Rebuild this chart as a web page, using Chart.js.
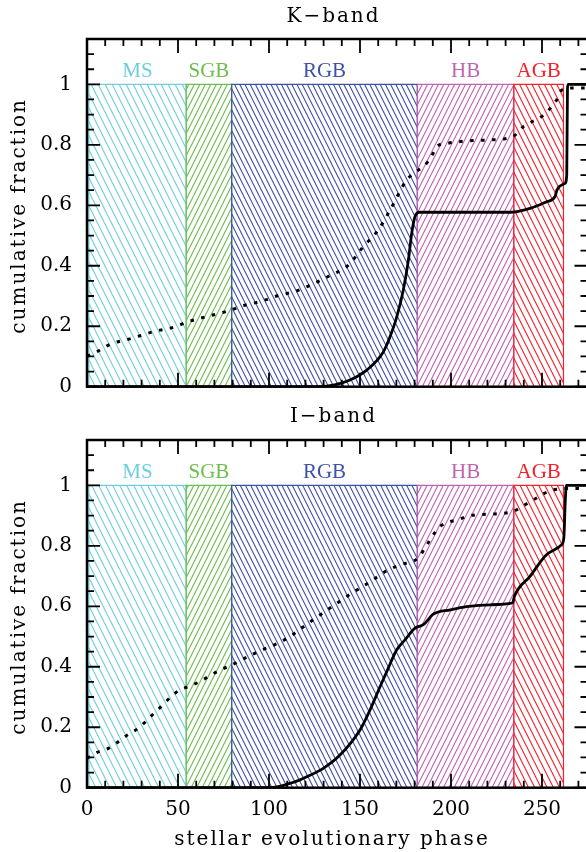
<!DOCTYPE html>
<html><head><meta charset="utf-8">
<script src="https://cdn.jsdelivr.net/npm/chart.js@4.4.0/dist/chart.umd.min.js"></script>
<style>
html,body{margin:0;padding:0;background:#fff;overflow:hidden}
#wrap{position:relative;width:586px;height:852px;overflow:hidden;background:#fff}
canvas{position:absolute;left:0}
</style></head><body>
<div id="wrap">
<canvas id="cI" width="600" height="452" style="top:400px"></canvas>
<canvas id="cK" width="600" height="420" style="top:0px"></canvas>
</div>
<script>
// ---------- data ----------
const phaseNames  = ['MS', 'SGB', 'RGB', 'HB', 'AGB'];
const phaseStart  = [1, 54.5, 79.5, 181.5, 234.5];
const phaseEnd    = [54.5, 79.5, 181.5, 234.5, 261.8];
const phaseTop    = [1, 1, 1, 1, 1];

const xTicks = [0, 50, 100, 150, 200, 250];
const xTickLabels = ['0', '50', '100', '150', '200', '250'];
const yTicks = [0, 0.2, 0.4, 0.6, 0.8, 1];
const yTickLabels = ['0', '0.2', '0.4', '0.6', '0.8', '1'];

// K-band
const kDotX = [0, 5.5, 12.6, 24.6, 36.4, 48.4, 54.5, 62, 73, 79.5, 85, 91.4, 98, 104.2, 115.2, 121.6, 133, 143.6, 151.5, 160, 166.5, 175.6, 180.8, 185.7, 189.4, 192.1, 198, 204, 212, 221.4, 233.9, 239.7, 250.7, 258, 260.8, 265.4, 275];
const kDotY = [0.100, 0.116, 0.140, 0.160, 0.182, 0.198, 0.213, 0.226, 0.243, 0.254, 0.267, 0.276, 0.287, 0.300, 0.317, 0.333, 0.366, 0.402, 0.461, 0.518, 0.584, 0.683, 0.711, 0.733, 0.763, 0.794, 0.805, 0.810, 0.814, 0.816, 0.827, 0.860, 0.898, 0.948, 0.981, 0.988, 0.988];
const kSolidX = [0, 128, 136, 144.5, 153.7, 162.8, 166.5, 170.2, 173.8, 176.6, 178.4, 180.2, 182.5, 200, 232.4, 243.4, 252.6, 257.1, 258.2, 259.9, 262.6, 263.6, 264.0, 264.4, 275];
const kSolidY = [0, 0, 0.006, 0.022, 0.055, 0.115, 0.165, 0.231, 0.320, 0.419, 0.507, 0.562, 0.577, 0.577, 0.577, 0.590, 0.612, 0.628, 0.650, 0.664, 0.672, 0.700, 0.987, 1.0, 1.0];

// I-band
const iDotX = [0, 5.3, 11.7, 17.2, 22.4, 27.3, 32.3, 36.8, 41.4, 46.2, 51.1, 55.7, 62, 67.6, 73.5, 79.5, 85, 90.5, 96.3, 102, 107.9, 113, 118, 123.5, 133.5, 144.1, 154.6, 165.6, 172, 182, 185.7, 190.3, 194, 205, 210.4, 225, 234.2, 240.7, 247, 253.5, 259, 265, 275];
const iDotY = [0.097, 0.116, 0.130, 0.152, 0.175, 0.193, 0.219, 0.246, 0.272, 0.301, 0.324, 0.334, 0.351, 0.371, 0.390, 0.406, 0.423, 0.440, 0.456, 0.470, 0.487, 0.506, 0.528, 0.552, 0.594, 0.638, 0.677, 0.721, 0.737, 0.760, 0.793, 0.837, 0.864, 0.889, 0.900, 0.906, 0.914, 0.936, 0.958, 0.980, 0.988, 0.990, 0.990];
const iSolidX = [0, 100.5, 111.5, 117, 120.7, 129.8, 139, 150, 155.5, 161, 164.7, 170.2, 174.7, 180.2, 184.8, 190.3, 199.5, 208.6, 221.4, 233.9, 234.8, 243.4, 252.6, 260.8, 262.0, 262.8, 263.4, 275];
const iSolidY = [0, 0, 0.014, 0.026, 0.036, 0.064, 0.108, 0.191, 0.257, 0.334, 0.384, 0.456, 0.489, 0.528, 0.539, 0.574, 0.588, 0.599, 0.605, 0.611, 0.632, 0.699, 0.771, 0.804, 0.826, 0.950, 1.0, 1.0];

// ---------- style ----------
const phaseColors  = ['#6fcde0', '#6cbf4c', '#3f50a8', '#c163b3', '#f5222e'];
const phaseDir     = ['\\', '/', '\\', '/', '\\'];
const hatchTileW   = [7, 11, 26, 27, 31];
const hatchLines   = [1, 2, 5, 5, 5];
const TEXT_FONT = '20px "DejaVu Serif"';
const TEXT_SPACING = 2;

function makeHatch(color, dir, w, n) {
  const c = document.createElement('canvas');
  c.width = w; c.height = 2 * w;
  const g = c.getContext('2d');
  if (dir === '/') { g.translate(w, 0); g.scale(-1, 1); }
  g.strokeStyle = color; g.lineWidth = 1.1;
  g.beginPath();
  for (let k = 0; k < n; k++) {
    const x0 = k * w / n;
    for (let m = -2; m <= 2; m++) {
      g.moveTo(x0 + m * w - w, -2 * w);
      g.lineTo(x0 + m * w + 2 * w, 4 * w);
    }
  }
  g.stroke();
  return document.createElement('canvas').getContext('2d').createPattern(c, 'repeat');
}

function pts(xs, ys) { return xs.map((x, i) => ({x: x, y: ys[i]})); }

function spacedText(ctx, text, cx, y, sp) {
  ctx.textAlign = 'left';
  if ('letterSpacing' in ctx) {
    ctx.letterSpacing = sp + 'px';
    const w = ctx.measureText(text).width - sp;
    ctx.fillText(text, cx - w / 2, y);
    ctx.letterSpacing = '0px';
  } else {
    let w = 0;
    for (const ch of text) w += ctx.measureText(ch).width + sp;
    w -= sp;
    let x = cx - w / 2;
    for (const ch of text) { ctx.fillText(ch, x, y); x += ctx.measureText(ch).width + sp; }
  }
}

const frameTicks = {
  id: 'frameTicks',
  afterDatasetsDraw(chart) {
    const {ctx, chartArea: a} = chart;
    const x = chart.scales.x, y = chart.scales.y;
    ctx.save();
    ctx.strokeStyle = '#000';
    ctx.lineWidth = 1.8;
    ctx.beginPath();
    for (let k = 0; k * 10 <= x.max + 1e-9; k++) {
      const px = x.getPixelForValue(k * 10);
      const L = (k % 5 === 0) ? 14 : 7;
      ctx.moveTo(px, a.bottom); ctx.lineTo(px, a.bottom - L);
      ctx.moveTo(px, a.top); ctx.lineTo(px, a.top + L);
    }
    for (let k = 0; k * 0.05 <= y.max + 1e-9; k++) {
      const py = y.getPixelForValue(k * 0.05);
      const L = (k % 4 === 0) ? 13 : 7;
      ctx.moveTo(a.left, py); ctx.lineTo(a.left + L, py);
      ctx.moveTo(a.right, py); ctx.lineTo(a.right - L, py);
    }
    ctx.stroke();
    ctx.lineWidth = 2.5;
    ctx.strokeRect(a.left, a.top, a.right - a.left, a.bottom - a.top);
    ctx.restore();
  }
};

const panelText = {
  id: 'panelText',
  afterDraw(chart, args, o) {
    const {ctx, chartArea: a} = chart;
    const x = chart.scales.x, y = chart.scales.y;
    ctx.save();
    ctx.font = '21px "Liberation Serif"';
    ctx.textAlign = 'center';
    ctx.textBaseline = 'alphabetic';
    phaseNames.forEach((nm, i) => {
      ctx.fillStyle = phaseColors[i];
      ctx.fillText(nm, x.getPixelForValue((phaseStart[i] + phaseEnd[i]) / 2), y.getPixelForValue(1.023));
    });
    ctx.fillStyle = '#000';
    ctx.font = TEXT_FONT;
    spacedText(ctx, o.title, o.titleX, o.titleY, TEXT_SPACING);
    ctx.save();
    ctx.translate(25, (a.top + a.bottom) / 2 + 4);
    ctx.rotate(-Math.PI / 2);
    spacedText(ctx, o.yTitle, 0, 0, TEXT_SPACING);
    ctx.restore();
    if (o.xTitle) spacedText(ctx, o.xTitle, o.xTitleX, o.xTitleY, TEXT_SPACING);
    ctx.restore();
  }
};

function makeChart(id, dotX, dotY, solidX, solidY, opt) {
  const datasets = [
    {data: pts(solidX, solidY), borderColor: '#000', borderWidth: 2.8, pointRadius: 0, fill: false,
     cubicInterpolationMode: 'monotone', order: 0},
    {data: pts(dotX, dotY), borderColor: '#000', borderWidth: 3, borderDash: [3.5, 7.5], pointRadius: 0, fill: false,
     cubicInterpolationMode: 'monotone', order: 1}
  ];
  phaseNames.forEach((nm, i) => {
    datasets.push({
      label: nm,
      data: [{x: phaseStart[i], y: 0}, {x: phaseStart[i], y: phaseTop[i]}, {x: phaseEnd[i], y: phaseTop[i]}, {x: phaseEnd[i], y: 0}],
      borderColor: phaseColors[i], borderWidth: 1.2, pointRadius: 0, tension: 0,
      backgroundColor: makeHatch(phaseColors[i], phaseDir[i], hatchTileW[i], hatchLines[i]),
      fill: 'origin', order: 20 - i
    });
  });
  return new Chart(document.getElementById(id), {
    type: 'line',
    data: {datasets},
    plugins: [frameTicks, panelText],
    options: {
      responsive: false, animation: false, devicePixelRatio: 1,
      layout: {padding: {left: 0, top: opt.top, right: 12.5, bottom: 0}},
      plugins: {legend: {display: false}, tooltip: {enabled: false}, title: {display: false},
        panelText: opt.text},
      scales: {
        x: {type: 'linear', min: 0, max: 275,
            grid: {display: false, drawTicks: false}, border: {display: false},
            afterBuildTicks: s => { s.ticks = xTicks.map(v => ({value: v})); },
            ticks: {display: opt.showX, padding: 10, color: '#000', maxRotation: 0, autoSkip: false,
                    font: {family: 'DejaVu Serif', size: 20}, callback: (v, i) => xTickLabels[i]},
            afterFit: s => { s.height = opt.xH; }},
        y: {type: 'linear', min: 0, max: 1.15,
            grid: {display: false, drawTicks: false}, border: {display: false},
            afterBuildTicks: s => { s.ticks = yTicks.map(v => ({value: v})); },
            ticks: {padding: 15, color: '#000', autoSkip: false,
                    font: {family: 'DejaVu Serif', size: 20}, callback: (v, i) => yTickLabels[i]},
            afterFit: s => { s.width = 87; }}
      }
    }
  });
}

makeChart('cK', kDotX, kDotY, kSolidX, kSolidY, {
  top: 39, xH: 33.3, showX: false,
  text: {title: 'K\u2212band', titleX: 332.5, titleY: 21.7, yTitle: 'cumulative fraction'}
});
makeChart('cI', iDotX, iDotY, iSolidX, iSolidY, {
  top: 40, xH: 64.3, showX: true,
  text: {title: 'I\u2212band', titleX: 332.5, titleY: 21.5, yTitle: 'cumulative fraction',
         xTitle: 'stellar evolutionary phase', xTitleX: 331, xTitleY: 445}
});
</script>
</body></html>
